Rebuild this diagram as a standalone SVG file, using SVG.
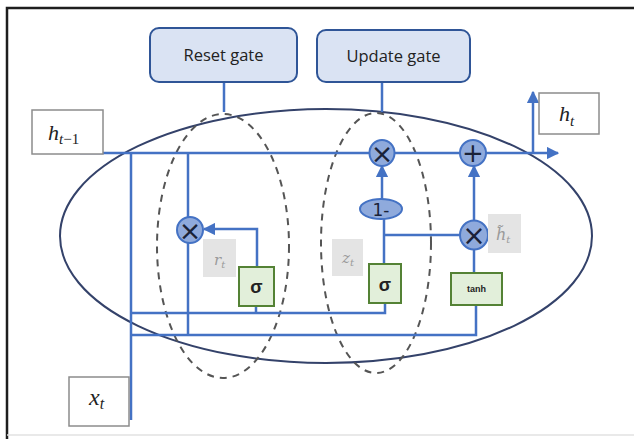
<svg xmlns="http://www.w3.org/2000/svg" width="634" height="439" viewBox="0 0 634 439">
  <style>
    .wire { fill: none; stroke: #4472C4; stroke-width: 2.5; }
    .gate { fill: #DAE3F3; stroke: #2F5597; stroke-width: 2; }
    .gate-text { font-family: "Open Sans", "Liberation Sans", sans-serif; font-size: 16.5px; fill: #222; text-anchor: middle; }
    .op { fill: #8FAADC; stroke: #4472C4; stroke-width: 2; }
    .op-text { font-family: "DejaVu Sans", sans-serif; fill: #1A2238; text-anchor: middle; }
    .act { fill: #E2EFDA; stroke: #548235; stroke-width: 2; }
    .act-text { font-family: "Liberation Sans", sans-serif; font-weight: bold; fill: #222; text-anchor: middle; }
    .io { fill: #fff; stroke: #8C8C8C; stroke-width: 1.5; }
    .math { font-family: "Liberation Serif", serif; font-style: italic; fill: #222; }
    .tag { fill: #E4E4E4; }
    .tag-text { font-family: "DejaVu Serif", "Liberation Serif", serif; font-style: italic; fill: #9A9A9A; }
    .region { fill: none; stroke: #555; stroke-width: 2; stroke-dasharray: 7 6; }
  </style>
  <defs>
    <marker id="arrow" viewBox="0 0 10 10" refX="9" refY="5" markerWidth="5" markerHeight="5" orient="auto" markerUnits="strokeWidth">
      <path d="M0,0 L10,5 L0,10 z" fill="#4472C4"/>
    </marker>
  </defs>

  <rect width="634" height="439" fill="#fff"/>
  <!-- outer frame -->
  <path d="M7,439 V8 H634" fill="none" stroke="#1E1E1E" stroke-width="2.5"/>
  <line x1="7" y1="435" x2="634" y2="435" stroke="#E2E2E2" stroke-width="1.5"/>

  <!-- cell boundary and gate regions -->
  <g id="cell">
    <ellipse cx="326" cy="236" rx="266" ry="127" fill="none" stroke="#34426A" stroke-width="2"/>
  </g>
  <g id="reset-region">
    <ellipse cx="223" cy="246" rx="66" ry="132" class="region"/>
  </g>
  <g id="update-region">
    <ellipse cx="376" cy="243" rx="55" ry="130" class="region"/>
  </g>

  <!-- connectors -->
  <g id="connectors">
    <path class="wire" d="M80,153 H558" marker-end="url(#arrow)"/>
    <path class="wire" d="M533,153 V92" marker-end="url(#arrow)"/>
    <path class="wire" d="M131,153 V420"/>
    <path class="wire" d="M131,313 H385 V303"/>
    <path class="wire" d="M256,306 V313"/>
    <path class="wire" d="M131,335 H476 V305"/>
    <path class="wire" d="M188,153 V335"/>
    <path class="wire" d="M257,267 V229 H204" marker-end="url(#arrow)"/>
    <path class="wire" d="M384,264 V219"/>
    <path class="wire" d="M382,199 V166" marker-end="url(#arrow)"/>
    <path class="wire" d="M384,235 H460"/>
    <path class="wire" d="M474,273 V249"/>
    <path class="wire" d="M474,221 V166" marker-end="url(#arrow)"/>
    <path class="wire" d="M224,82 V112"/>
    <path class="wire" d="M382,82 V112"/>
  </g>

  <!-- gate captions -->
  <g id="reset-gate">
    <rect x="150" y="28" width="147" height="54" rx="9" class="gate"/>
    <text x="223.5" y="61" class="gate-text">Reset gate</text>
  </g>
  <g id="update-gate">
    <rect x="317" y="30" width="153" height="52" rx="9" class="gate"/>
    <text x="393.5" y="62" class="gate-text">Update gate</text>
  </g>

  <!-- inputs and output -->
  <g id="h-prev">
    <rect x="32" y="110" width="71" height="44" class="io"/>
    <text x="48" y="140" class="math" font-size="22">h<tspan font-size="15" dy="4">t</tspan><tspan font-size="15" font-style="normal">−1</tspan></text>
  </g>
  <g id="h-out">
    <rect x="539" y="93" width="60" height="41" class="io"/>
    <text x="559" y="121" class="math" font-size="22">h<tspan font-size="15" dy="5">t</tspan></text>
  </g>
  <g id="x-in">
    <rect x="69" y="377" width="60" height="49" class="io"/>
    <text x="89" y="405" class="math" font-size="24">x<tspan font-size="16" dy="4">t</tspan></text>
  </g>

  <!-- reset path -->
  <g id="reset-mult">
    <circle cx="190" cy="230" r="13" class="op"/>
    <text x="190" y="239.5" class="op-text" font-size="27">×</text>
  </g>
  <g id="reset-sigma">
    <rect x="239" y="267" width="35" height="39" class="act"/>
    <text x="256.5" y="293" class="act-text" font-size="18">σ</text>
  </g>
  <g id="r-label">
    <rect x="203" y="239" width="33" height="38" class="tag"/>
    <text x="214" y="265" class="tag-text" font-size="15">r<tspan font-size="10" dy="3">t</tspan></text>
  </g>

  <!-- update path -->
  <g id="update-mult">
    <ellipse cx="382" cy="153" rx="12.5" ry="13" class="op"/>
    <text x="382" y="162.5" class="op-text" font-size="27">×</text>
  </g>
  <g id="one-minus">
    <ellipse cx="381" cy="209" rx="21" ry="10" class="op"/>
    <text x="381" y="215.5" class="op-text" font-size="17">1-</text>
  </g>
  <g id="update-sigma">
    <rect x="369" y="264" width="32" height="39" class="act"/>
    <text x="385" y="291" class="act-text" font-size="18">σ</text>
  </g>
  <g id="z-label">
    <rect x="332" y="239" width="31" height="37" class="tag"/>
    <text x="342" y="263" class="tag-text" font-size="15">z<tspan font-size="10" dy="3">t</tspan></text>
  </g>

  <!-- candidate path -->
  <g id="sum">
    <ellipse cx="473" cy="153" rx="13" ry="13" class="op"/>
    <text x="473" y="162" class="op-text" font-size="26">+</text>
  </g>
  <g id="candidate-mult">
    <ellipse cx="474" cy="235" rx="14" ry="14.5" class="op"/>
    <text x="474" y="245" class="op-text" font-size="28">×</text>
  </g>
  <g id="tanh">
    <rect x="451" y="273" width="51" height="32" class="act"/>
    <text x="476.5" y="292" class="act-text" font-size="9">tanh</text>
  </g>
  <g id="h-tilde-label">
    <rect x="488" y="214" width="33" height="39" class="tag"/>
    <text x="496" y="240" class="tag-text" font-size="16">h̃<tspan font-size="10" dy="3">t</tspan></text>
  </g>
</svg>
